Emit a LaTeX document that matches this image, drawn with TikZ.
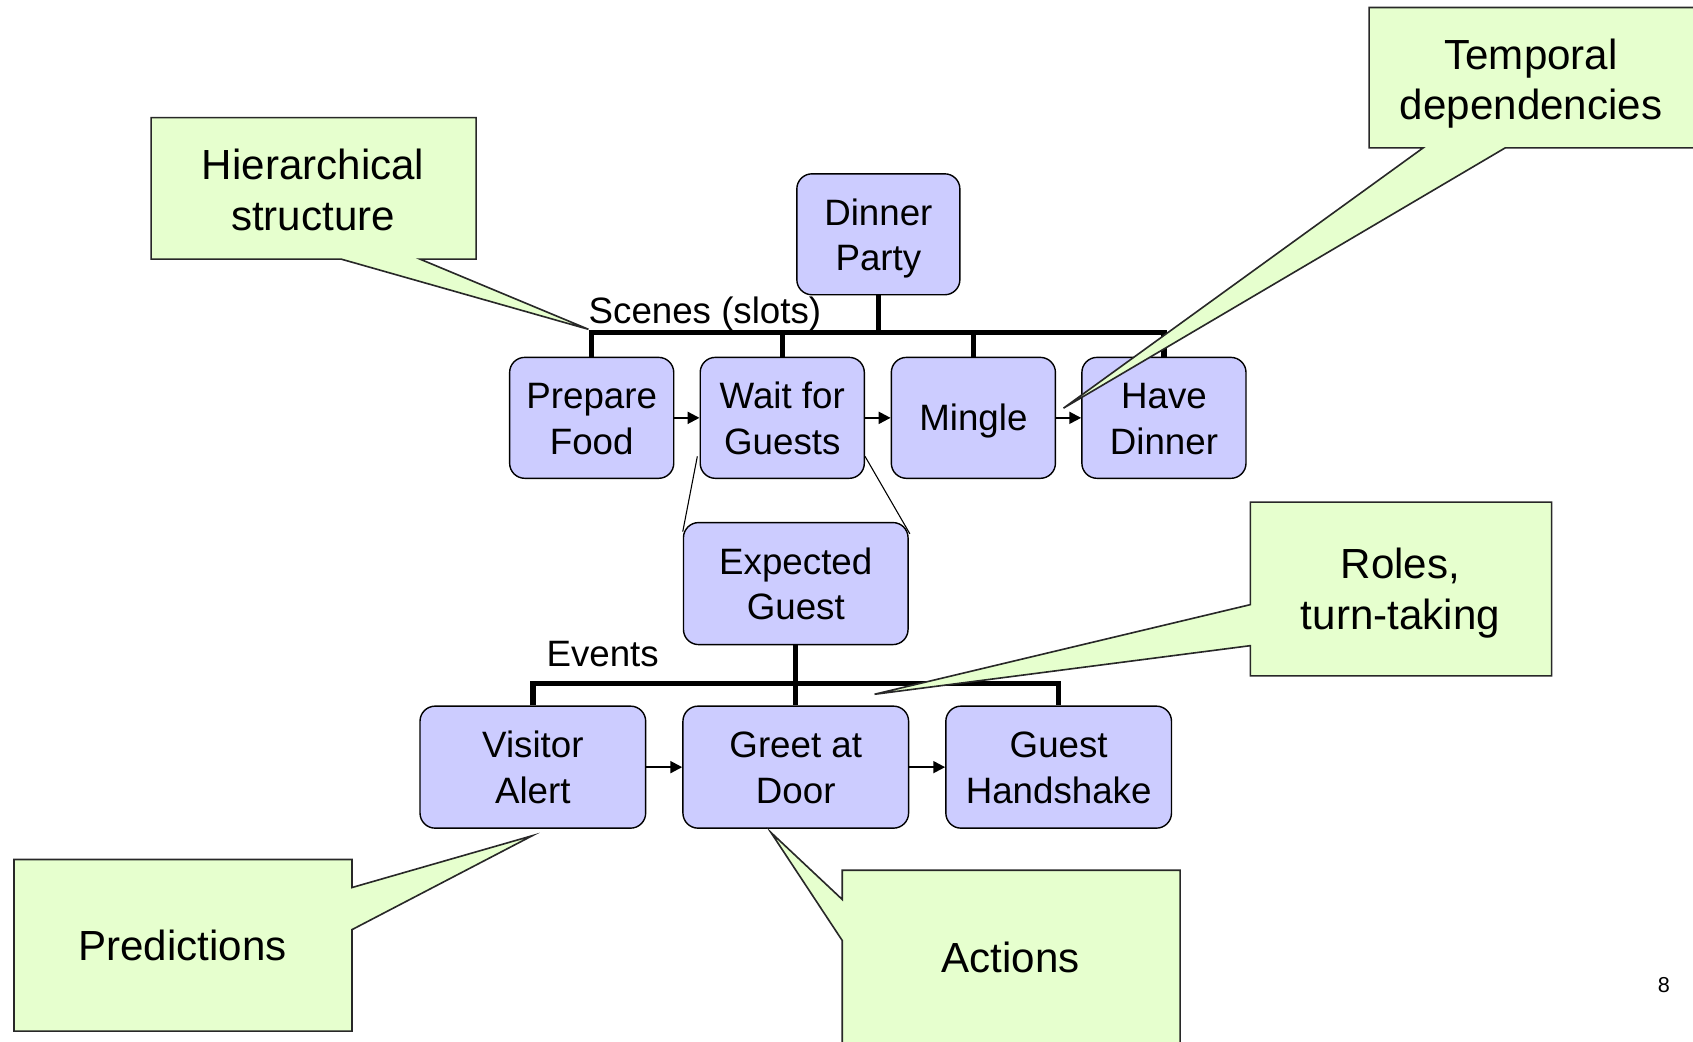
\documentclass[tikz,border=0pt]{standalone}
\usepackage{fontspec}
\setmainfont{Liberation Sans}
\usetikzlibrary{arrows.meta,calc}
\definecolor{boxfill}{RGB}{204,204,255}
\definecolor{callfill}{RGB}{230,255,206}
\definecolor{callline}{RGB}{40,40,40}
\newcommand{\topstrut}{\rule{0pt}{33pt}}
\newcommand{\botstrut}{\rule[-8pt]{0pt}{8pt}}
\begin{document}
\begin{tikzpicture}[x=1pt,y=-1pt,
  box/.style={draw=black,line width=1.3pt,fill=boxfill,rounded corners=14pt,
    align=center,inner sep=0pt,font=\fontsize{34}{42}\selectfont},
  scenebox/.style={box,minimum width=152pt,minimum height=112pt},
  eventbox/.style={box,minimum width=209pt,minimum height=113pt},
  tree/.style={line width=5pt,line join=miter},
  arr/.style={line width=2pt,-{Triangle[length=11pt,width=11pt]}},
  thinline/.style={line width=1pt},
  callout/.style={draw=callline,line width=1.5pt,fill=callfill,line join=miter},
  calltext/.style={align=center,font=\fontsize{39}{47}\selectfont},
  lbl/.style={font=\fontsize{34}{42}\selectfont,inner sep=0pt}]
\useasboundingbox (0,0) rectangle (1568,965);

% top level
\node[box,minimum width=151pt,minimum height=112pt] (party) at (813.5,217) {\topstrut Dinner\\Party\botstrut};

% scenes
\node[scenebox] (prep)   at (548,387) {\topstrut Prepare\\Food\botstrut};
\node[scenebox] (wait)   at (724.5,387) {\topstrut Wait for\\Guests\botstrut};
\node[scenebox] (mingle) at (901.5,387) {\rule{0pt}{31pt}Mingle};
\node[scenebox] (have)   at (1078,387) {\topstrut Have\\Dinner\botstrut};

\coordinate (sbar) at (813.5,308);
\draw[tree] (party.south) -- (sbar);
\draw[tree] (prep.north) -- (prep.north |- sbar) -- (have.north |- sbar) -- (have.north);
\draw[tree] (wait.north |- sbar) -- (wait.north);
\draw[tree] (mingle.north |- sbar) -- (mingle.north);

\node[lbl,anchor=base west] (scenes) at (545,300) {Scenes (slots)};

\draw[arr] (prep.east) -- (wait.west);
\draw[arr] (wait.east) -- (mingle.west);
\draw[arr] (mingle.east) -- (have.west);

% expected guest
\node[eventbox,minimum width=208pt] (exp) at (737,540.5) {\topstrut Expected\\Guest\botstrut};
\draw[thinline] ($(wait.south west)+(-2,-21)$) -- ($(exp.north west)+(0,9)$);
\draw[thinline] ($(wait.south east)+(0,-21)$) -- ($(exp.north east)+(1,11)$);

% events
\node[eventbox] (visit) at (493.5,710.5) {\topstrut Visitor\\Alert\botstrut};
\node[eventbox] (greet) at (737,710.5) {\topstrut Greet at\\Door\botstrut};
\node[eventbox] (shake) at (980.5,710.5) {\topstrut Guest\\Handshake\botstrut};

\coordinate (ebar) at (737,633);
\draw[tree] (exp.south) -- (greet.north);
\draw[tree] (visit.north) -- (visit.north |- ebar) -- (shake.north |- ebar) -- (shake.north);

\node[lbl,anchor=base west] (events) at (506,617) {Events};

\draw[arr] (visit.east) -- (greet.west);
\draw[arr] (greet.east) -- (shake.west);

% callouts
\draw[callout] (140,109) -- (441,109) -- (441,240) -- (389,240) -- (545,305) -- (316,240) -- (140,240) -- cycle;
\node[calltext] (hier) at (290,176) {Hierarchical\\structure};

\draw[callout] (1268,7) -- (1580,7) -- (1580,137) -- (1394,137) -- (985,378) -- (1318,137) -- (1268,137) -- cycle;
\node[calltext] (temp) at (1418,77.5) {Temporal\\dependencies};

\draw[callout] (1158,465) -- (1437,465) -- (1437,626) -- (1158,626) -- (1158,598) -- (810,643) -- (1158,560) -- cycle;
\node[calltext] (roles) at (1297,549) {Roles,\\turn-taking};

\draw[callout] (13,796) -- (326,796) -- (326,822) -- (493,774) -- (326,861) -- (326,955) -- (13,955) -- cycle;
\node[calltext] (pred) at (169,876) {Predictions};

\draw[callout] (780,806) -- (1093,806) -- (1093,975) -- (780,975) -- (780,871) -- (714,771) -- (780,833) -- cycle;
\node[calltext] (act) at (936,887) {Actions};

\node[font=\fontsize{20}{24}\selectfont] (pg) at (1541,912) {8};
\end{tikzpicture}
\end{document}
